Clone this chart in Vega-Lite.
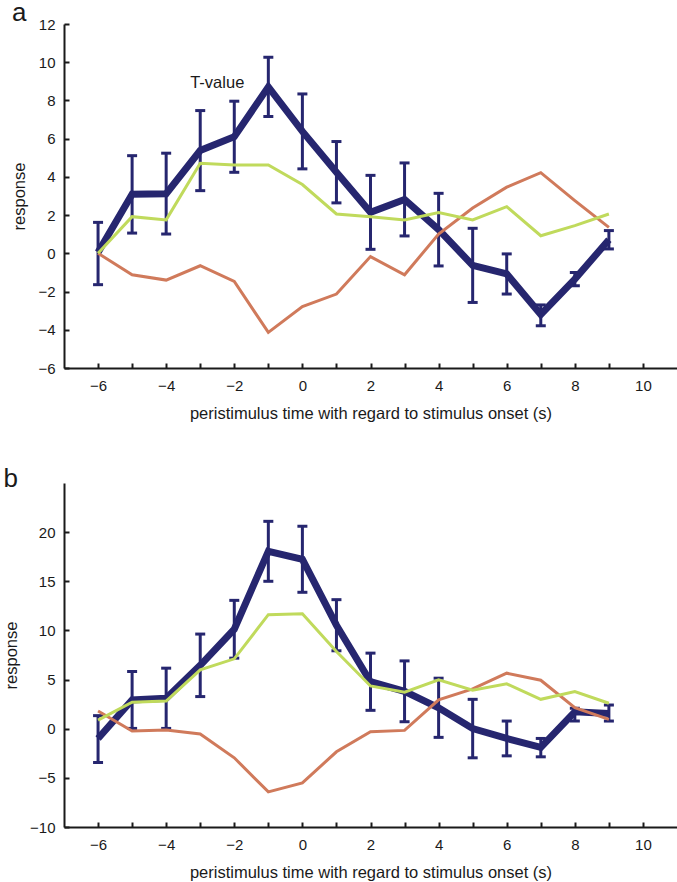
{
  "$schema": "https://vega.github.io/schema/vega-lite/v6.json",
  "autosize": {"type": "pad"},
  "padding": {"left": 3, "top": 0, "right": 0, "bottom": 0},
  "spacing": 44,
  "config": {
    "view": {"stroke": null},
    "font": "Liberation Sans",
    "axis": {
      "grid": false,
      "labelOverlap": false,
      "domainColor": "#1a1a1a",
      "domainWidth": 2,
      "tickColor": "#1a1a1a",
      "tickWidth": 2,
      "tickSize": -5,
      "labelFont": "Liberation Sans",
      "labelFontSize": 15,
      "labelColor": "#1a1a1a",
      "titleFont": "Liberation Sans",
      "titleFontSize": 16.5,
      "titleFontWeight": "normal",
      "titleColor": "#1a1a1a"
    },
    "axisX": {"labelPadding": 15, "titlePadding": 12},
    "axisY": {"labelPadding": 14, "titlePadding": 10},
    "title": {"fontSize": 26, "fontWeight": "normal", "anchor": "start", "frame": "bounds", "color": "#1a1a1a", "font": "Liberation Sans", "offset": -9}
  },
  "datasets": {
    "lines_a": [
      {"t": -6, "series": "T-value", "v": 0.05}, {"t": -5, "series": "T-value", "v": 3.09}, {"t": -4, "series": "T-value", "v": 3.12},
      {"t": -3, "series": "T-value", "v": 5.38}, {"t": -2, "series": "T-value", "v": 6.1}, {"t": -1, "series": "T-value", "v": 8.71},
      {"t": 0, "series": "T-value", "v": 6.38}, {"t": 1, "series": "T-value", "v": 4.24}, {"t": 2, "series": "T-value", "v": 2.15},
      {"t": 3, "series": "T-value", "v": 2.82}, {"t": 4, "series": "T-value", "v": 1.24}, {"t": 5, "series": "T-value", "v": -0.63},
      {"t": 6, "series": "T-value", "v": -1.08}, {"t": 7, "series": "T-value", "v": -3.2}, {"t": 8, "series": "T-value", "v": -1.35},
      {"t": 9, "series": "T-value", "v": 0.71},
      {"t": -6, "series": "green", "v": 0.0}, {"t": -5, "series": "green", "v": 1.92}, {"t": -4, "series": "green", "v": 1.75},
      {"t": -3, "series": "green", "v": 4.71}, {"t": -2, "series": "green", "v": 4.62}, {"t": -1, "series": "green", "v": 4.62},
      {"t": 0, "series": "green", "v": 3.6}, {"t": 1, "series": "green", "v": 2.06}, {"t": 2, "series": "green", "v": 1.92},
      {"t": 3, "series": "green", "v": 1.75}, {"t": 4, "series": "green", "v": 2.13}, {"t": 5, "series": "green", "v": 1.75},
      {"t": 6, "series": "green", "v": 2.44}, {"t": 7, "series": "green", "v": 0.92}, {"t": 8, "series": "green", "v": 1.45},
      {"t": 9, "series": "green", "v": 2.06},
      {"t": -6, "series": "orange", "v": 0.0}, {"t": -5, "series": "orange", "v": -1.12}, {"t": -4, "series": "orange", "v": -1.4},
      {"t": -3, "series": "orange", "v": -0.65}, {"t": -2, "series": "orange", "v": -1.47}, {"t": -1, "series": "orange", "v": -4.14},
      {"t": 0, "series": "orange", "v": -2.79}, {"t": 1, "series": "orange", "v": -2.13}, {"t": 2, "series": "orange", "v": -0.17},
      {"t": 3, "series": "orange", "v": -1.12}, {"t": 4, "series": "orange", "v": 1.01}, {"t": 5, "series": "orange", "v": 2.37},
      {"t": 6, "series": "orange", "v": 3.46}, {"t": 7, "series": "orange", "v": 4.22}, {"t": 8, "series": "orange", "v": 2.76},
      {"t": 9, "series": "orange", "v": 1.36}
    ],
    "err_a": [
      {"t": -6, "lo": -1.64, "hi": 1.62}, {"t": -5, "lo": 1.06, "hi": 5.11}, {"t": -4, "lo": 1.01, "hi": 5.24},
      {"t": -3, "lo": 3.28, "hi": 7.47}, {"t": -2, "lo": 4.24, "hi": 7.96}, {"t": -1, "lo": 7.16, "hi": 10.26},
      {"t": 0, "lo": 4.42, "hi": 8.34}, {"t": 1, "lo": 2.64, "hi": 5.85}, {"t": 2, "lo": 0.21, "hi": 4.08},
      {"t": 3, "lo": 0.91, "hi": 4.73}, {"t": 4, "lo": -0.66, "hi": 3.14}, {"t": 5, "lo": -2.57, "hi": 1.31},
      {"t": 6, "lo": -2.13, "hi": -0.03}, {"t": 7, "lo": -3.79, "hi": -2.7}, {"t": 8, "lo": -1.69, "hi": -1.0},
      {"t": 9, "lo": 0.23, "hi": 1.19}
    ],
    "lines_b": [
      {"t": -6, "series": "T-value", "v": -1.0}, {"t": -5, "series": "T-value", "v": 2.93}, {"t": -4, "series": "T-value", "v": 3.1},
      {"t": -3, "series": "T-value", "v": 6.45}, {"t": -2, "series": "T-value", "v": 10.12}, {"t": -1, "series": "T-value", "v": 18.05},
      {"t": 0, "series": "T-value", "v": 17.24}, {"t": 1, "series": "T-value", "v": 10.53}, {"t": 2, "series": "T-value", "v": 4.78},
      {"t": 3, "series": "T-value", "v": 3.8}, {"t": 4, "series": "T-value", "v": 2.13}, {"t": 5, "series": "T-value", "v": 0.02},
      {"t": 6, "series": "T-value", "v": -0.99}, {"t": 7, "series": "T-value", "v": -1.9}, {"t": 8, "series": "T-value", "v": 1.73},
      {"t": 9, "series": "T-value", "v": 1.56},
      {"t": -6, "series": "green", "v": 0.88}, {"t": -5, "series": "green", "v": 2.69}, {"t": -4, "series": "green", "v": 2.82},
      {"t": -3, "series": "green", "v": 5.99}, {"t": -2, "series": "green", "v": 7.11}, {"t": -1, "series": "green", "v": 11.6},
      {"t": 0, "series": "green", "v": 11.7}, {"t": 1, "series": "green", "v": 7.86}, {"t": 2, "series": "green", "v": 4.35},
      {"t": 3, "series": "green", "v": 3.71}, {"t": 4, "series": "green", "v": 4.97}, {"t": 5, "series": "green", "v": 3.91},
      {"t": 6, "series": "green", "v": 4.56}, {"t": 7, "series": "green", "v": 2.99}, {"t": 8, "series": "green", "v": 3.78},
      {"t": 9, "series": "green", "v": 2.59},
      {"t": -6, "series": "orange", "v": 1.8}, {"t": -5, "series": "orange", "v": -0.24}, {"t": -4, "series": "orange", "v": -0.14},
      {"t": -3, "series": "orange", "v": -0.54}, {"t": -2, "series": "orange", "v": -2.96}, {"t": -1, "series": "orange", "v": -6.43},
      {"t": 0, "series": "orange", "v": -5.51}, {"t": 1, "series": "orange", "v": -2.35}, {"t": 2, "series": "orange", "v": -0.31},
      {"t": 3, "series": "orange", "v": -0.17}, {"t": 4, "series": "orange", "v": 2.93}, {"t": 5, "series": "orange", "v": 4.05},
      {"t": 6, "series": "orange", "v": 5.65}, {"t": 7, "series": "orange", "v": 4.93}, {"t": 8, "series": "orange", "v": 2.14},
      {"t": 9, "series": "orange", "v": 0.95}
    ],
    "err_b": [
      {"t": -6, "lo": -3.44, "hi": 1.33}, {"t": -5, "lo": 0.03, "hi": 5.82}, {"t": -4, "lo": 0.03, "hi": 6.16},
      {"t": -3, "lo": 3.27, "hi": 9.63}, {"t": -2, "lo": 7.18, "hi": 13.06}, {"t": -1, "lo": 15.0, "hi": 21.1},
      {"t": 0, "lo": 13.88, "hi": 20.6}, {"t": 1, "lo": 7.93, "hi": 13.13}, {"t": 2, "lo": 1.87, "hi": 7.69},
      {"t": 3, "lo": 0.71, "hi": 6.9}, {"t": 4, "lo": -0.88, "hi": 5.14}, {"t": 5, "lo": -2.96, "hi": 2.99},
      {"t": 6, "lo": -2.76, "hi": 0.78}, {"t": 7, "lo": -2.86, "hi": -0.99}, {"t": 8, "lo": 0.78, "hi": 2.07},
      {"t": 9, "lo": 0.78, "hi": 2.41}
    ],
    "label_a": [{"t": -2.5, "v": 8.65, "text": "T-value"}]
  },
  "vconcat": [
    {
      "width": 613,
      "height": 344,
      "title": {"text": "a"},
      "layer": [
        {
          "data": {"name": "err_a"},
          "mark": {"type": "rule", "color": "#26266f", "strokeWidth": 3},
          "encoding": {
            "x": {"field": "t", "type": "quantitative", "scale": {"domain": [-7, 11], "nice": false, "zero": false},
                  "title": "peristimulus time with regard to stimulus onset (s)",
                  "axis": {"values": [-6, -5, -4, -3, -2, -1, 0, 1, 2, 3, 4, 5, 6, 7, 8, 9, 10], "tickCount": 40, "format": "d", "labelExpr": "datum.value % 2 === 0 ? datum.label : ''", "labelOverlap": false}},
            "y": {"field": "lo", "type": "quantitative", "scale": {"domain": [-6, 12], "nice": false, "zero": false}, "title": "response",
                  "axis": {"values": [-6, -4, -2, 0, 2, 4, 6, 8, 10, 12], "tickCount": 40, "format": "d", "labelOverlap": false, "labelFlush": false}},
            "y2": {"field": "hi"}
          }
        },
        {
          "data": {"name": "err_a"},
          "mark": {"type": "tick", "orient": "horizontal", "color": "#26266f", "size": 10, "thickness": 3, "opacity": 1},
          "encoding": {
            "x": {"field": "t", "type": "quantitative", "scale": {"domain": [-7, 11], "nice": false, "zero": false}, "title": "peristimulus time with regard to stimulus onset (s)"},
            "y": {"field": "lo", "type": "quantitative", "scale": {"domain": [-6, 12], "nice": false, "zero": false}, "title": "response"}
          }
        },
        {
          "data": {"name": "err_a"},
          "mark": {"type": "tick", "orient": "horizontal", "color": "#26266f", "size": 10, "thickness": 3, "opacity": 1},
          "encoding": {
            "x": {"field": "t", "type": "quantitative", "scale": {"domain": [-7, 11], "nice": false, "zero": false}, "title": "peristimulus time with regard to stimulus onset (s)"},
            "y": {"field": "hi", "type": "quantitative", "scale": {"domain": [-6, 12], "nice": false, "zero": false}, "title": "response"}
          }
        },
        {
          "data": {"name": "lines_a"},
          "transform": [{"filter": "datum.series === 'T-value'"}],
          "mark": {"type": "line", "color": "#26266f", "strokeWidth": 7},
          "encoding": {
            "x": {"field": "t", "type": "quantitative", "scale": {"domain": [-7, 11], "nice": false, "zero": false}, "title": "peristimulus time with regard to stimulus onset (s)"},
            "y": {"field": "v", "type": "quantitative", "scale": {"domain": [-6, 12], "nice": false, "zero": false}, "title": "response"}
          }
        },
        {
          "data": {"name": "lines_a"},
          "transform": [{"filter": "datum.series === 'orange'"}],
          "mark": {"type": "line", "color": "#d07a5b", "strokeWidth": 3},
          "encoding": {
            "x": {"field": "t", "type": "quantitative", "scale": {"domain": [-7, 11], "nice": false, "zero": false}, "title": "peristimulus time with regard to stimulus onset (s)"},
            "y": {"field": "v", "type": "quantitative", "scale": {"domain": [-6, 12], "nice": false, "zero": false}, "title": "response"}
          }
        },
        {
          "data": {"name": "lines_a"},
          "transform": [{"filter": "datum.series === 'green'"}],
          "mark": {"type": "line", "color": "#c0da5c", "strokeWidth": 3},
          "encoding": {
            "x": {"field": "t", "type": "quantitative", "scale": {"domain": [-7, 11], "nice": false, "zero": false}, "title": "peristimulus time with regard to stimulus onset (s)"},
            "y": {"field": "v", "type": "quantitative", "scale": {"domain": [-6, 12], "nice": false, "zero": false}, "title": "response"}
          }
        },
        {
          "data": {"name": "label_a"},
          "mark": {"type": "text", "fontSize": 16.5, "align": "center", "baseline": "alphabetic", "color": "#1a1a1a", "font": "Liberation Sans"},
          "encoding": {
            "x": {"field": "t", "type": "quantitative", "scale": {"domain": [-7, 11], "nice": false, "zero": false}, "title": "peristimulus time with regard to stimulus onset (s)"},
            "y": {"field": "v", "type": "quantitative", "scale": {"domain": [-6, 12], "nice": false, "zero": false}, "title": "response"},
            "text": {"field": "text"}
          }
        }
      ]
    },
    {
      "width": 613,
      "height": 344,
      "title": {"text": "b"},
      "layer": [
        {
          "data": {"name": "err_b"},
          "mark": {"type": "rule", "color": "#26266f", "strokeWidth": 3},
          "encoding": {
            "x": {"field": "t", "type": "quantitative", "scale": {"domain": [-7, 11], "nice": false, "zero": false},
                  "title": "peristimulus time with regard to stimulus onset (s)",
                  "axis": {"values": [-6, -5, -4, -3, -2, -1, 0, 1, 2, 3, 4, 5, 6, 7, 8, 9, 10], "tickCount": 40, "format": "d", "labelExpr": "datum.value % 2 === 0 ? datum.label : ''", "labelOverlap": false}},
            "y": {"field": "lo", "type": "quantitative", "scale": {"domain": [-10, 25], "nice": false, "zero": false}, "title": "response",
                  "axis": {"values": [-10, -5, 0, 5, 10, 15, 20], "tickCount": 40, "format": "d", "labelOverlap": false, "labelFlush": false}},
            "y2": {"field": "hi"}
          }
        },
        {
          "data": {"name": "err_b"},
          "mark": {"type": "tick", "orient": "horizontal", "color": "#26266f", "size": 10, "thickness": 3, "opacity": 1},
          "encoding": {
            "x": {"field": "t", "type": "quantitative", "scale": {"domain": [-7, 11], "nice": false, "zero": false}, "title": "peristimulus time with regard to stimulus onset (s)"},
            "y": {"field": "lo", "type": "quantitative", "scale": {"domain": [-10, 25], "nice": false, "zero": false}, "title": "response"}
          }
        },
        {
          "data": {"name": "err_b"},
          "mark": {"type": "tick", "orient": "horizontal", "color": "#26266f", "size": 10, "thickness": 3, "opacity": 1},
          "encoding": {
            "x": {"field": "t", "type": "quantitative", "scale": {"domain": [-7, 11], "nice": false, "zero": false}, "title": "peristimulus time with regard to stimulus onset (s)"},
            "y": {"field": "hi", "type": "quantitative", "scale": {"domain": [-10, 25], "nice": false, "zero": false}, "title": "response"}
          }
        },
        {
          "data": {"name": "lines_b"},
          "transform": [{"filter": "datum.series === 'T-value'"}],
          "mark": {"type": "line", "color": "#26266f", "strokeWidth": 7},
          "encoding": {
            "x": {"field": "t", "type": "quantitative", "scale": {"domain": [-7, 11], "nice": false, "zero": false}, "title": "peristimulus time with regard to stimulus onset (s)"},
            "y": {"field": "v", "type": "quantitative", "scale": {"domain": [-10, 25], "nice": false, "zero": false}, "title": "response"}
          }
        },
        {
          "data": {"name": "lines_b"},
          "transform": [{"filter": "datum.series === 'orange'"}],
          "mark": {"type": "line", "color": "#d07a5b", "strokeWidth": 3},
          "encoding": {
            "x": {"field": "t", "type": "quantitative", "scale": {"domain": [-7, 11], "nice": false, "zero": false}, "title": "peristimulus time with regard to stimulus onset (s)"},
            "y": {"field": "v", "type": "quantitative", "scale": {"domain": [-10, 25], "nice": false, "zero": false}, "title": "response"}
          }
        },
        {
          "data": {"name": "lines_b"},
          "transform": [{"filter": "datum.series === 'green'"}],
          "mark": {"type": "line", "color": "#c0da5c", "strokeWidth": 3},
          "encoding": {
            "x": {"field": "t", "type": "quantitative", "scale": {"domain": [-7, 11], "nice": false, "zero": false}, "title": "peristimulus time with regard to stimulus onset (s)"},
            "y": {"field": "v", "type": "quantitative", "scale": {"domain": [-10, 25], "nice": false, "zero": false}, "title": "response"}
          }
        }
      ]
    }
  ]
}
